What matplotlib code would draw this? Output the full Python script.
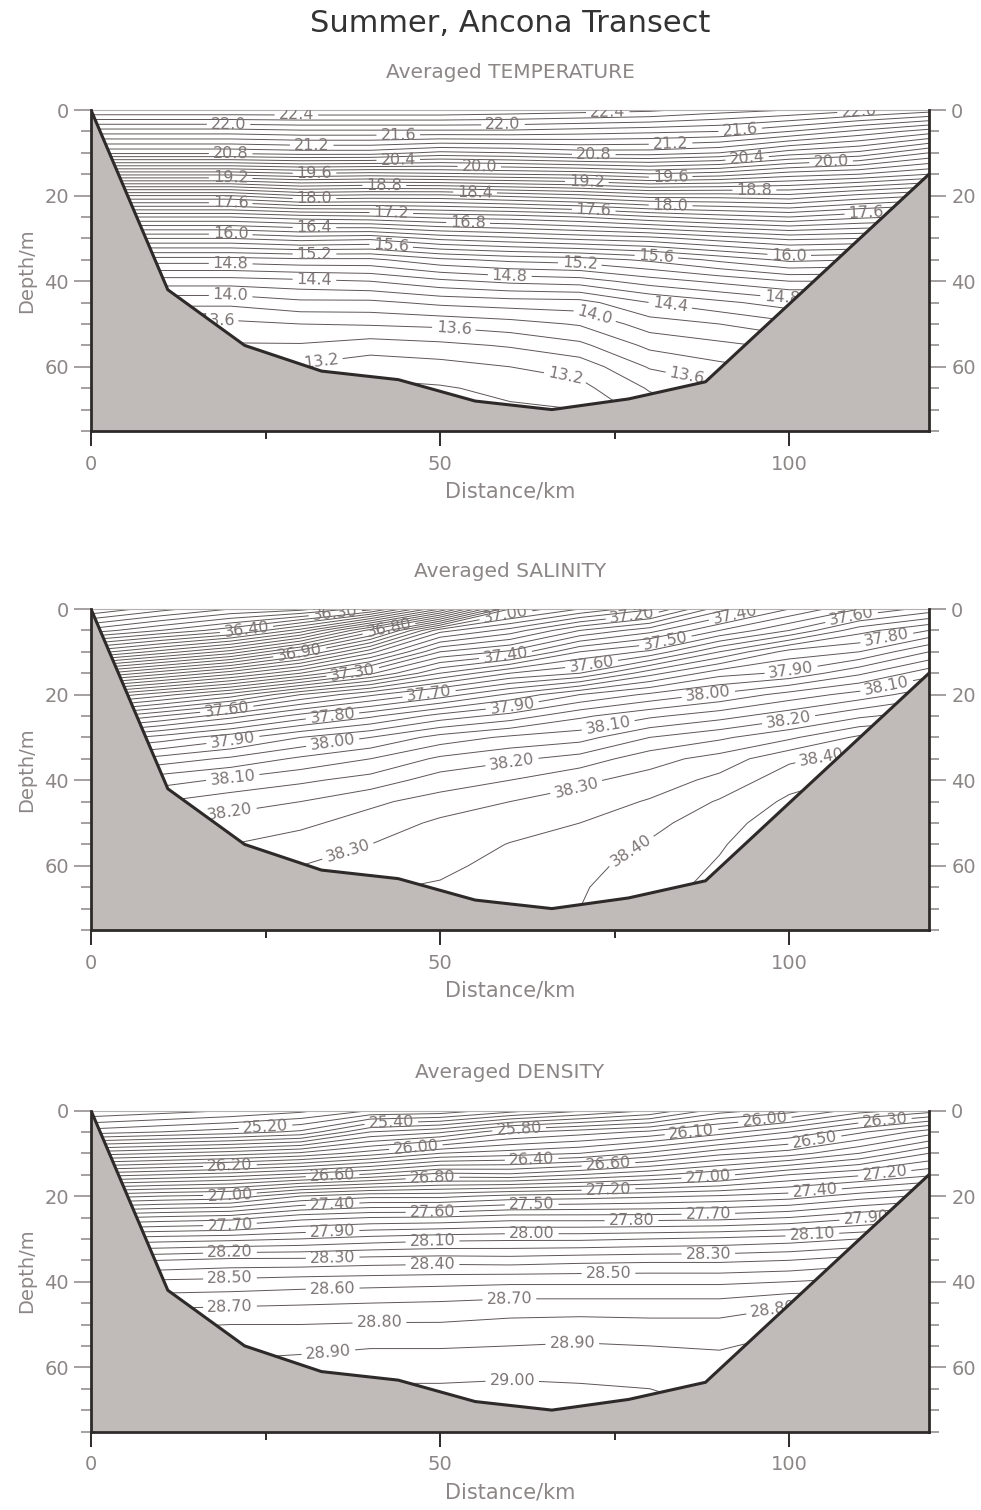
import numpy as np
import matplotlib.pyplot as plt
from matplotlib.ticker import MultipleLocator


# =========================
# STATION GRID
# =========================

stations = [0, 10, 20, 30, 40, 50, 60, 70, 80, 90, 100, 110, 120]          # km
depths = [0, 5, 10, 15, 20, 25, 30, 35, 40, 45, 50, 55, 60, 65, 70, 75]    # m

# sea floor along the transect
bottom_km = [0, 11, 22, 33, 44, 55, 66, 77, 88, 120]
bottom_m = [0, 42, 55, 61, 63, 68, 70, 67.5, 63.5, 15]

# averaged temperature, one profile per station (degC)
temp_profiles = [
    [22.6, 21.7, 20.85, 19.45, 18.0, 16.8, 15.8, 14.9, 14.3, 13.85, 13.55, 13.35, 13.2, 13.1, 13.0, 12.95],
    [22.6, 21.7, 20.85, 19.45, 18.0, 16.8, 15.8, 14.9, 14.3, 13.85, 13.55, 13.35, 13.2, 13.1, 13.0, 12.95],
    [22.6, 21.7, 20.85, 19.45, 18.0, 16.8, 15.8, 14.9, 14.3, 13.85, 13.55, 13.38, 13.25, 13.1, 13.0, 12.95],
    [22.6, 21.75, 20.9, 19.55, 18.2, 16.9, 15.9, 14.95, 14.35, 13.95, 13.6, 13.38, 13.17, 13.0, 12.92, 12.88],
    [22.6, 21.75, 20.9, 19.5, 18.15, 16.95, 15.85, 14.95, 14.4, 13.95, 13.62, 13.3, 13.08, 12.95, 12.88, 12.85],
    [22.6, 21.75, 20.75, 19.55, 18.15, 17.05, 16.05, 15.15, 14.55, 14.05, 13.65, 13.35, 13.12, 12.98, 12.9, 12.86],
    [22.55, 21.75, 20.8, 19.6, 18.25, 17.1, 16.15, 15.25, 14.65, 14.1, 13.72, 13.42, 13.2, 13.05, 12.97, 12.93],
    [22.5, 21.7, 20.9, 19.65, 18.35, 17.2, 16.25, 15.3, 14.7, 14.12, 13.82, 13.55, 13.28, 13.14, 13.0, 12.96],
    [22.45, 21.65, 20.9, 19.78, 18.5, 17.37, 16.33, 15.44, 14.9, 14.4, 14.1, 13.85, 13.62, 13.42, 13.3, 13.2],
    [22.3, 21.6, 20.8, 19.7, 18.5, 17.5, 16.5, 15.65, 15.05, 14.55, 14.2, 13.95, 13.75, 13.55, 13.4, 13.3],
    [22.2, 21.4, 20.5, 19.5, 18.55, 17.6, 16.65, 15.85, 15.2, 14.7, 14.35, 14.05, 13.85, 13.65, 13.5, 13.4],
    [22.05, 21.15, 20.35, 19.4, 18.35, 17.45, 16.6, 15.8, 15.2, 14.7, 14.35, 14.05, 13.85, 13.65, 13.5, 13.4],
    [21.9, 20.9, 20.0, 19.2, 18.2, 17.35, 16.55, 15.8, 15.2, 14.7, 14.35, 14.05, 13.85, 13.65, 13.5, 13.4],
]

# averaged salinity, one profile per station
salt_profiles = [
    [36.0, 36.22, 36.52, 36.88, 37.24, 37.52, 37.76, 37.93, 38.05, 38.13, 38.18, 38.22, 38.24, 38.26, 38.28, 38.3],
    [36.08, 36.3, 36.62, 36.98, 37.33, 37.6, 37.82, 37.97, 38.08, 38.15, 38.2, 38.23, 38.25, 38.27, 38.29, 38.3],
    [36.15, 36.38, 36.72, 37.08, 37.42, 37.68, 37.88, 38.01, 38.11, 38.18, 38.22, 38.25, 38.28, 38.3, 38.31, 38.32],
    [36.18, 36.52, 36.88, 37.2, 37.55, 37.77, 37.95, 38.06, 38.14, 38.2, 38.24, 38.27, 38.3, 38.32, 38.33, 38.34],
    [36.28, 36.77, 37.08, 37.34, 37.64, 37.84, 38.0, 38.1, 38.17, 38.24, 38.27, 38.3, 38.32, 38.345, 38.36, 38.37],
    [36.55, 37.08, 37.3, 37.5, 37.72, 37.92, 38.07, 38.16, 38.225, 38.27, 38.31, 38.325, 38.34, 38.355, 38.37, 38.38],
    [36.95, 37.17, 37.36, 37.6, 37.81, 37.97, 38.11, 38.19, 38.25, 38.3, 38.33, 38.352, 38.365, 38.375, 38.385, 38.39],
    [37.05, 37.3, 37.5, 37.65, 37.9, 38.04, 38.13, 38.22, 38.29, 38.32, 38.35, 38.37, 38.385, 38.395, 38.4, 38.41],
    [37.14, 37.38, 37.56, 37.78, 37.96, 38.09, 38.2, 38.28, 38.32, 38.355, 38.385, 38.405, 38.42, 38.43, 38.44, 38.45],
    [37.33, 37.5, 37.7, 37.88, 38.01, 38.13, 38.24, 38.32, 38.365, 38.405, 38.43, 38.445, 38.455, 38.465, 38.47, 38.48],
    [37.45, 37.6, 37.82, 37.91, 38.07, 38.18, 38.29, 38.39, 38.43, 38.46, 38.48, 38.49, 38.5, 38.5, 38.5, 38.5],
    [37.55, 37.73, 37.85, 37.99, 38.12, 38.24, 38.36, 38.42, 38.46, 38.48, 38.5, 38.5, 38.5, 38.5, 38.5, 38.5],
    [37.62, 37.8, 37.95, 38.08, 38.18, 38.28, 38.36, 38.42, 38.46, 38.48, 38.5, 38.5, 38.5, 38.5, 38.5, 38.5],
]

# averaged density (sigma), one profile per station
dens_profiles = [
    [24.8, 25.15, 25.75, 26.35, 26.95, 27.48, 27.92, 28.28, 28.5, 28.66, 28.78, 28.86, 28.91, 28.95, 28.98, 29.0],
    [24.85, 25.2, 25.8, 26.4, 27.0, 27.52, 27.95, 28.3, 28.52, 28.67, 28.79, 28.86, 28.91, 28.95, 28.99, 29.01],
    [24.9, 25.25, 25.85, 26.45, 27.03, 27.55, 27.97, 28.33, 28.53, 28.68, 28.8, 28.87, 28.92, 28.96, 29.0, 29.02],
    [24.97, 25.32, 25.92, 26.53, 27.2, 27.66, 28.0, 28.33, 28.55, 28.69, 28.8, 28.88, 28.93, 28.98, 29.01, 29.03],
    [25.1, 25.6, 26.05, 26.62, 27.27, 27.7, 28.04, 28.35, 28.56, 28.7, 28.81, 28.89, 28.97, 29.01, 29.03, 29.04],
    [25.12, 25.68, 26.2, 26.74, 27.27, 27.71, 28.07, 28.36, 28.57, 28.71, 28.81, 28.89, 28.97, 29.01, 29.03, 29.05],
    [25.25, 25.88, 26.25, 26.72, 27.33, 27.75, 28.08, 28.35, 28.58, 28.73, 28.83, 28.9, 28.97, 29.02, 29.04, 29.05],
    [25.38, 25.95, 26.3, 26.8, 27.35, 27.75, 28.08, 28.37, 28.58, 28.73, 28.84, 28.91, 28.97, 29.01, 29.03, 29.04],
    [25.5, 26.02, 26.42, 26.88, 27.38, 27.75, 28.1, 28.38, 28.58, 28.73, 28.83, 28.9, 28.96, 29.0, 29.02, 29.03],
    [25.75, 26.15, 26.57, 26.97, 27.41, 27.76, 28.12, 28.38, 28.58, 28.73, 28.83, 28.89, 28.94, 28.97, 29.0, 29.01],
    [25.85, 26.3, 26.65, 27.1, 27.45, 27.8, 28.15, 28.4, 28.6, 28.78, 28.88, 28.93, 28.96, 28.98, 29.0, 29.01],
    [26.05, 26.48, 26.8, 27.18, 27.55, 27.88, 28.2, 28.45, 28.63, 28.78, 28.88, 28.93, 28.96, 28.98, 29.0, 29.01],
    [26.15, 26.65, 27.0, 27.28, 27.62, 27.95, 28.25, 28.48, 28.65, 28.8, 28.88, 28.93, 28.96, 28.98, 29.0, 29.01],
]

# where the contour labels sit (km, m)
temp_label_pts = [
    (29.4, 1.6), (19.7, 3.5), (74, 0.7), (59, 3.7), (110, 1.2), (44, 5.8), (93, 5.6),
    (31.6, 7.9), (83, 8.6), (20, 10.2), (72, 10.7), (44, 11.9), (94, 12.1), (55.6, 13.3),
    (106, 12.8), (32, 14.7), (83, 15.8), (20, 15.8), (71, 16.7), (42, 17.4), (95, 18.8),
    (55, 19.1), (32, 20.7), (83, 22), (20, 21.4), (72, 22.8), (111, 23), (43, 24),
    (54, 26), (32, 27.4), (20, 28.8), (100, 33.5), (43, 31.2), (81, 33.5), (32, 33),
    (70, 35.6), (20, 35.6), (60, 37.7), (32, 39.3), (83, 44.9), (99, 43), (20, 42.6),
    (72.5, 46), (18, 49), (52, 50), (85.5, 61), (33, 59.3), (68, 61.6),
]
salt_label_pts = [
    (35, 1.2), (22.3, 5.4), (42.7, 4.9), (29.9, 10.3), (37.5, 14.9), (19.4, 22.8),
    (48.4, 19.6), (34.6, 25.2), (20.3, 30.5), (34.6, 31.2), (20.3, 39.4), (19.9, 47.3),
    (37, 57.8), (59.4, 1.4), (77.5, 1.4), (92.3, 1.9), (108.9, 1.9), (114, 7.2),
    (82.3, 7.9), (59.4, 11.4), (71.7, 13), (100.3, 14.7), (114, 18.4), (60.3, 22.4),
    (88.4, 20), (74.1, 27.5), (99.9, 25.9), (60.3, 35.9), (69.4, 41), (104.6, 34.5),
    (77, 55.7),
]
dens_label_pts = [
    (25, 4.1), (43, 2.7), (46.5, 8.4), (19.9, 13.3), (34.6, 15.4), (48.9, 15.9),
    (19.9, 19.6), (34.6, 21.9), (48.9, 23.8), (19.9, 26.5), (34.6, 28.4), (48.9, 30.4),
    (19.9, 32.8), (34.6, 34.3), (48.9, 35.8), (19.9, 39.3), (34.6, 41.2), (19.9, 45.8),
    (41.3, 49.3), (34, 56.7), (60.3, 63.7), (61.3, 4.1), (86, 5.3), (96.5, 2.2),
    (113.7, 2.6), (103.7, 7.5), (63.1, 11.5), (74.1, 12.6), (88.4, 15.7), (113.7, 15.3),
    (74.1, 18.4), (103.7, 19.1), (63.1, 21.9), (77.4, 25.8), (88.4, 24.2), (111, 25),
    (63.1, 28.6), (103.3, 29.2), (88.4, 33), (74.1, 38.1), (59.9, 43.5), (97.5, 45),
    (68.9, 53.6),
]


# =========================
# STYLE
# =========================

LINE_COL = "#5e5656"
LABEL_COL = "#7d7575"
TICK_COL = "#8c8686"
FLOOR_COL = "#c0bab8"
FRAME_COL = "#2e2a2a"

W, H = 981, 1510
AX_LEFT, AX_RIGHT = 91, 929
AX_HEIGHT = 321
PANEL_TOPS = [110, 609, 1110.5]

plt.rcParams["font.family"] = ["DejaVu Sans"]

fig = plt.figure(figsize=(W / 100, H / 100), dpi=100)
fig.text(0.52, 1 - 24 / H, "Summer, Ancona Transect", ha="center", va="center",
         fontsize=22, color="#333333")

panels = [
    ("Averaged TEMPERATURE", temp_profiles, (12.8, 23.0, 0.2), 0.4, "%.1f", temp_label_pts),
    ("Averaged SALINITY", salt_profiles, (35.95, 38.6, 0.05), 0.1, "%.2f", salt_label_pts),
    ("Averaged DENSITY", dens_profiles, (24.5, 29.2, 0.1), 0.1, "%.2f", dens_label_pts),
]


def draw_section(ax, title, profiles, lev_range, label_step, fmt, label_pts):
    field = np.array(profiles).T  # depth x station
    lo, hi, step = lev_range
    decimals = 2 if step < 0.1 else 1
    levels = np.round(np.arange(lo, hi, step), decimals)
    on_label = np.abs(levels / label_step - np.round(levels / label_step)) < 1e-6

    ax.set_xlim(0, 120)
    ax.set_ylim(75, 0)

    # unlabelled isolines, then the labelled set (broken under its labels)
    if (~on_label).any():
        ax.contour(stations, depths, field, levels=levels[~on_label],
                   colors=LINE_COL, linewidths=0.7, zorder=2)
    cs = ax.contour(stations, depths, field, levels=levels[on_label],
                    colors=LINE_COL, linewidths=0.7, zorder=2)
    texts = ax.clabel(cs, manual=label_pts, inline=True, inline_spacing=4,
                      fmt=fmt, fontsize=11.5, colors=LABEL_COL)
    for t in texts:
        t.set_zorder(3)

    # sea floor
    floor_x = bottom_km + [120, 0]
    floor_y = bottom_m + [75, 75]
    ax.fill(floor_x, floor_y, color=FLOOR_COL, zorder=5, lw=0)
    ax.plot(bottom_km, bottom_m, color=FRAME_COL, lw=2.2, zorder=6,
            solid_joinstyle="miter")

    # axes cosmetics
    for side in ["left", "right", "bottom"]:
        ax.spines[side].set_color(FRAME_COL)
        ax.spines[side].set_linewidth(2.0)
        ax.spines[side].set_zorder(7)
    ax.spines["top"].set_color("#b5b0b0")
    ax.spines["top"].set_linewidth(0.8)

    ax.yaxis.set_major_locator(MultipleLocator(20))
    ax.yaxis.set_minor_locator(MultipleLocator(5))
    ax.xaxis.set_major_locator(MultipleLocator(50))
    ax.xaxis.set_minor_locator(MultipleLocator(25))

    ax.tick_params(axis="y", which="both", left=True, right=True,
                   labelleft=True, labelright=True, direction="out",
                   color=TICK_COL, labelcolor=TICK_COL, labelsize=14, width=1.1)
    ax.tick_params(axis="y", which="major", length=12, pad=4)
    ax.tick_params(axis="y", which="minor", length=7.5)
    ax.tick_params(axis="x", which="both", direction="out", top=False,
                   color=FRAME_COL, labelcolor=TICK_COL, labelsize=14, width=1.4)
    ax.tick_params(axis="x", which="major", length=11, pad=6)
    ax.tick_params(axis="x", which="minor", length=6)

    ax.set_ylabel("Depth/m", fontsize=14, color=TICK_COL, labelpad=6)
    ax.set_xlabel("Distance/km", fontsize=15, color=TICK_COL, labelpad=6)
    ax.text(0.5, 1 + 38 / AX_HEIGHT, title, transform=ax.transAxes,
            ha="center", va="center", fontsize=14.5, color=TICK_COL)


for (title, profiles, lev_range, label_step, fmt, pts), top in zip(panels, PANEL_TOPS):
    rect = [AX_LEFT / W, 1 - (top + AX_HEIGHT) / H,
            (AX_RIGHT - AX_LEFT) / W, AX_HEIGHT / H]
    ax = fig.add_axes(rect)
    draw_section(ax, title, profiles, lev_range, label_step, fmt, pts)

fig.savefig("out.png", dpi=100, facecolor="white")
